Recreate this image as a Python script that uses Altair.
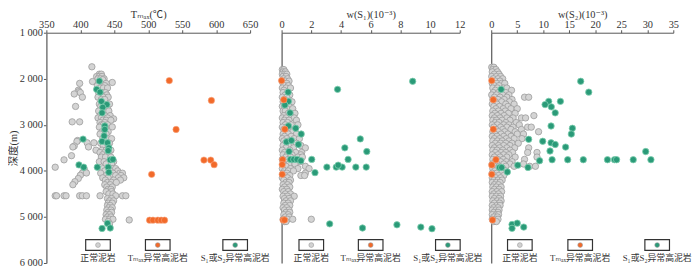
import altair as alt
import pandas as pd

FONT = "Liberation Serif, Noto Sans CJK SC, DejaVu Sans"

# ---------------- data (depth m, value) ----------------
# Panel 1: Tmax (℃)
p1_gray_rows = [
    (1740, [417]), (1900, [428, 431]), (1950, [424, 428, 432]), (2000, [426, 430, 435]),
    (2020, [433]), (2060, [418]), (2080, [447]), (2100, [399, 427, 430, 438]),
    (2150, [425, 436]), (2200, [429, 434, 440]), (2250, [397]), (2280, [398]),
    (2300, [400, 427, 432, 437]), (2330, [391]), (2350, [430, 439]), (2400, [403, 426, 434, 441]),
    (2450, [431, 436]), (2550, [428, 434, 443]), (2600, [393, 430, 437]), (2650, [432, 440]),
    (2700, [427, 435, 442]), (2800, [429, 436, 444]), (2850, [426, 431, 440]), (2870, [449]),
    (2900, [433, 438, 445]), (2935, [388, 399]), (2950, [429, 436]), (3000, [431, 434, 440]),
    (3045, [447]), (3050, [428, 437]), (3150, [432, 436, 441]), (3200, [429, 438]),
    (3300, [433, 440, 446]), (3340, [396]), (3360, [395]), (3390, [410, 420]),
    (3400, [430, 437, 443]), (3450, [434, 441]), (3460, [391]), (3480, [389, 412]),
    (3550, [423, 432, 438, 445]), (3600, [429, 436, 442]), (3650, [433, 440]), (3670, [387]),
    (3700, [431, 437, 445]), (3760, [376]), (3800, [428, 435, 442, 449]), (3850, [438, 446]),
    (3920, [363]), (3950, [433, 440, 447, 452]), (3970, [406]), (4000, [436, 444, 455]),
    (4045, [403, 409]), (4050, [430, 448, 458, 462]), (4095, [400]), (4100, [438, 445, 452, 460]),
    (4150, [433, 441, 456, 464]), (4165, [397]), (4200, [437, 449, 459]), (4235, [392]),
    (4250, [440, 446, 453]), (4300, [389, 436, 444]), (4350, [439, 447]), (4400, [441, 445]),
    (4450, [438, 446]), (4500, [442, 448]),
    (4540, [363, 365, 376, 379, 399, 403, 409, 429, 452, 462, 467]),
    (4600, [440, 446]), (4650, [443, 449]), (4700, [441, 447]), (4750, [440, 444]),
    (4800, [442, 447]), (4850, [439, 445]), (4900, [441, 446]), (4950, [438, 443]),
    (5000, [440, 445]), (5050, [437, 443, 448]), (5065, [472]), (5100, [441]), (5150, [443]),
]
p1_green_rows = [
    (2050, [428]), (2230, [424]), (2290, [429]), (2490, [431]), (2560, [439]), (2620, [433]),
    (2740, [432]), (3025, [436]), (3100, [436]), (3310, [404]), (3240, [435]), (3360, [432]),
    (3390, [440]), (3500, [442]), (3560, [441]), (3760, [444]), (3750, [448]),
    (3870, [398]), (3920, [405, 425, 441]), (4030, [442]), (5250, [432]), (5140, [440]), (5240, [444]),
]
p1_orange_rows = [
    (2040, [531]), (2470, [593]), (3100, [541]), (4075, [505]),
    (5070, [502, 507, 514, 519, 524]), (3765, [582, 592]), (3865, [597]),
]

# Panel 2: w(S1)
p2_gray_rows = [
    (1800, [0.05, 0.15]), (1850, [0.1, 0.25]), (1900, [0.05, 0.2, 0.35]), (1950, [0.1, 0.3]),
    (2000, [0.15, 0.4]), (2050, [0.05, 0.25, 0.5]), (2100, [0.1, 0.35]), (2150, [0.2, 0.45]),
    (2200, [0.05, 0.3, 0.6]), (2250, [0.15]), (2300, [0.1, 0.4]), (2350, [0.25, 0.55]),
    (2400, [0.05, 0.35]), (2450, [0.2]), (2500, [0.1, 0.45, 0.7]), (2550, [0.3]),
    (2600, [0.05, 0.2, 0.5]), (2650, [0.35, 0.75]), (2700, [0.1, 0.25]), (2750, [0.45, 0.9]),
    (2800, [0.15, 0.6]), (2850, [0.05, 0.3, 0.85]), (2900, [0.2, 0.5, 1.0]), (2950, [0.1, 0.4]),
    (3000, [0.25, 0.65, 1.1]), (3050, [0.05, 0.35]), (3100, [0.15, 0.55, 0.9]), (3150, [0.3, 0.75]),
    (3200, [0.1, 0.45, 1.0]), (3250, [0.2, 0.65]), (3300, [0.05, 0.35, 0.85, 1.2]),
    (3350, [0.15, 0.5]), (3400, [0.25, 0.7, 1.0]), (3450, [0.1, 0.45, 1.3]),
    (3500, [0.3, 0.8, 1.6]), (3550, [0.05, 0.55]), (3600, [0.2, 0.95, 1.35]),
    (3650, [0.1, 0.4, 0.7, 1.3]), (3700, [0.3, 0.6, 1.1, 1.4]), (3750, [0.05, 0.45]),
    (3800, [0.2, 0.75, 1.25]), (3850, [0.1, 0.5, 0.9]), (3900, [0.3, 1.6]),
    (3950, [0.05, 0.6, 1.1, 1.85]), (4000, [0.2, 0.45, 0.8]), (4050, [0.1, 0.35, 1.6]),
    (4100, [0.25, 0.55, 1.3, 1.55]), (4150, [0.05, 0.4]), (4200, [0.15, 0.6]), (4250, [0.3, 0.5]),
    (4300, [0.1, 0.4]), (4350, [0.2, 0.55]), (4400, [0.05, 0.35]), (4450, [0.15, 0.45]),
    (4500, [0.25, 0.6]), (4550, [0.1, 0.4, 0.85]), (4600, [0.2, 0.5]), (4650, [0.3, 0.6]),
    (4700, [0.15, 0.45]), (4750, [0.25, 0.55]), (4800, [0.1, 0.35]), (4850, [0.2, 0.5]),
    (4900, [0.3, 0.55]), (4950, [0.15, 0.45]), (5000, [0.25, 0.5]), (5050, [0.1, 0.4, 0.75, 2.0]),
    (5100, [0.2, 0.3]),
]
p2_green_rows = [
    (2055, [8.83]), (2230, [3.77]), (2290, [0.44]), (2490, [0.46]), (2570, [0.22]), (2740, [0.57]),
    (3025, [0.46]), (3075, [0.95]), (3200, [1.32]), (3306, [5.3]), (3370, [0.33]), (3340, [0.66]),
    (3500, [4.26]), (3426, [1.13]), (3580, [5.74, 0.5]), (3750, [4.48, 0.6, 0.82, 1.04, 2.03]),
    (3780, [1.3]), (3918, [3.05, 3.68, 4.08, 5.0, 5.7]), (3876, [3.81]), (4038, [2.25]),
    (5150, [3.24]), (5240, [5.45]), (5170, [7.77]), (5220, [9.38]), (5255, [10.13]),
]
p2_orange_rows = [
    (2040, [0.0]), (2456, [0.15]), (3095, [0.22]), (3757, [0.07]), (3863, [0.04]),
    (4075, [0.04]), (5066, [0.1, 0.2]),
]

# Panel 3: w(S2)
p3_gray_rows = [
    (1750, [0.1, 0.5]), (1800, [0.3, 0.9]), (1850, [0.2, 1.2]), (1900, [0.6, 1.5]),
    (1950, [0.1, 1.0, 1.8]), (2000, [0.4, 1.3, 2.2]), (2050, [0.8, 1.7]), (2100, [0.2, 1.1, 2.0, 2.6]),
    (2150, [0.6, 1.5]), (2200, [0.3, 1.2, 2.4, 3.0]), (2250, [0.8, 1.9, 3.9]), (2300, [0.4, 1.4, 2.8]),
    (2350, [0.1, 1.0, 2.2, 3.4]), (2400, [0.6, 1.7, 3.0, 6.4, 7.2]), (2450, [0.3, 1.3, 2.5, 4.0]),
    (2500, [0.8, 2.0, 3.5]), (2550, [0.2, 1.1, 2.8, 4.4]), (2600, [0.5, 1.6, 3.2]),
    (2650, [0.9, 2.3, 3.8, 5.0]), (2700, [0.3, 1.4, 2.7]), (2750, [0.7, 1.9, 3.3, 4.6]),
    (2800, [0.2, 1.2, 2.5, 8.2]), (2850, [0.6, 1.7, 3.0, 4.2, 5.8, 6.6]), (2900, [0.3, 1.0, 2.1, 3.6]),
    (2950, [0.8, 1.5, 2.8, 4.8]), (3000, [0.2, 1.2, 2.4, 3.4, 5.4]),
    (3050, [0.5, 1.8, 3.0, 4.2, 7.0, 7.7]), (3100, [0.9, 2.2, 3.8, 5.8]),
    (3150, [0.3, 1.4, 2.6, 4.6, 9.1]), (3200, [0.7, 1.9, 3.2, 5.0, 6.2]), (3250, [0.2, 1.1, 2.4, 3.8]),
    (3300, [0.6, 1.6, 2.9, 4.4, 5.9]), (3350, [0.3, 1.2, 2.1, 3.4]), (3400, [0.8, 1.8, 2.8, 4.0, 5.2]),
    (3450, [0.2, 1.4, 2.4, 3.6]), (3500, [0.6, 1.6, 3.0, 4.5, 7.2]), (3550, [0.3, 1.1, 2.2, 3.6]),
    (3600, [0.8, 1.9, 2.8, 4.1, 7.0, 8.8]), (3650, [0.2, 1.3, 2.4, 3.4]),
    (3700, [0.6, 1.7, 3.0, 4.6, 8.8]), (3750, [0.3, 1.2, 2.3, 6.4]), (3800, [0.8, 1.8, 2.9, 4.0]),
    (3850, [0.2, 1.1, 2.4, 3.6, 6.2]), (3900, [0.6, 1.5, 2.8, 4.4, 7.4, 8.5]), (3950, [0.3, 1.2, 2.2]),
    (4000, [0.7, 1.6, 2.8]), (4050, [0.2, 1.1, 2.0]), (4100, [0.5, 1.4, 2.4]), (4150, [0.2, 0.9, 1.8]),
    (4200, [0.5, 1.3, 2.1]), (4250, [0.2, 1.0, 1.7]), (4300, [0.6, 1.4]), (4350, [0.3, 1.0, 1.9]),
    (4400, [0.6, 1.5]), (4450, [0.2, 1.1, 2.0]), (4500, [0.5, 1.4]), (4550, [0.2, 1.0, 1.8]),
    (4600, [0.6, 1.5]), (4650, [0.3, 1.2, 1.9]), (4700, [0.6, 1.6]), (4750, [0.2, 1.1, 1.7]),
    (4800, [0.5, 1.3]), (4850, [0.2, 0.9, 1.5]), (4900, [0.5, 1.3]), (4950, [0.2, 1.0, 1.4]),
    (5000, [0.5, 1.2]), (5050, [0.2, 0.9, 1.3]), (5100, [0.5, 1.0]),
]
p3_green_rows = [
    (2055, [17.2]), (2290, [18.75]), (2230, [1.9]), (2490, [11.05, 13.3]), (2560, [10.35]),
    (2610, [11.55]), (2740, [12.3]), (3025, [11.5]), (3075, [15.6]), (3200, [15.4]),
    (3314, [7.2]), (3357, [9.9]), (3390, [11.5]), (3426, [12.3]), (3483, [14.3]), (3568, [11.3]),
    (3580, [29.7]), (3779, [9.3]), (3757, [11.7, 14.7, 17.7, 22.35, 23.7, 24.1, 27.3, 30.7]),
    (3876, [5.1]), (3926, [1.6, 2.0, 7.07]), (4024, [3.1]),
    (5163, [4.0]), (5135, [5.0]), (5247, [4.0]), (5220, [6.25]),
]
p3_orange_rows = [
    (2040, [0.1]), (2456, [0.4]), (3095, [0.4]), (3757, [0.9]), (3870, [0.1]),
    (4075, [0.1]), (5066, [0.25]),
]

legend_labels = ["正常泥岩", "Tₘₐₓ异常高泥岩", "S₁或S₂异常高泥岩"]
legend_colors = ["#d2d2d2", "#f26a2a", "#2a9a78"]
p1_legend_x = [426, 514, 628]
p2_legend_x = [2.0, 6.0, 11.2]
p3_legend_x = [5.5, 17.1, 31.9]
legend_box_depth = 5610
legend_text_depth = 5900

depth_ticks = [1000, 2000, 3000, 4000, 5000, 6000]
PLOT_H = 234


def expand(rows):
    xs, ds = [], []
    for d, vals in rows:
        for v in vals:
            xs.append(v)
            ds.append(d)
    return pd.DataFrame({"x": xs, "d": ds})


def panel(gray, green, orange, legend_x, xdomain, xticks, xtitle, width, first):
    xenc = alt.X(
        "x:Q",
        scale=alt.Scale(domain=xdomain, nice=False, zero=False),
        axis=alt.Axis(
            orient="top", values=xticks, title=xtitle, grid=False, tickSize=3,
            labelPadding=0, titlePadding=0, labelFlush=False,
            domainColor="#555", tickColor="#555", labelColor="#333", titleColor="#333",
            labelFont=FONT, titleFont=FONT, labelFontSize=10.5, titleFontSize=10.5,
            titleFontWeight="normal",
        ),
    )
    if first:
        yaxis = alt.Axis(
            values=depth_ticks, title="深度(m)", grid=False, tickSize=3, labelPadding=1,
            titlePadding=1,
            labelExpr="replace(format(datum.value, ','), ',', ' ')",
            domainColor="#777", domainWidth=1.5, tickColor="#555", labelColor="#333",
            titleColor="#333", labelFont=FONT, titleFont=FONT, labelFontSize=10.5,
            titleFontSize=10.5, titleFontWeight="normal",
        )
    else:
        yaxis = alt.Axis(values=depth_ticks, title=None, labels=False, ticks=False,
                         grid=False, domainColor="#555", domainWidth=1.2)
    yenc = alt.Y("d:Q", scale=alt.Scale(domain=[1000, 6000], reverse=True, nice=False, zero=False),
                 axis=yaxis)

    g = alt.Chart(expand(gray)).mark_circle(
        size=42, color="#d4d4d4", opacity=1, stroke="#9c9c9c", strokeWidth=0.8
    ).encode(x=xenc, y=yenc)
    gr = alt.Chart(expand(green)).mark_circle(
        size=42, color="#2a9a78", opacity=1, stroke="#7fcfb0", strokeWidth=0.8
    ).encode(x=xenc, y=yenc)
    o = alt.Chart(expand(orange)).mark_circle(
        size=42, color="#f26a2a", opacity=1, stroke="#f8a37c", strokeWidth=0.6
    ).encode(x=xenc, y=yenc)

    leg = pd.DataFrame({
        "x": legend_x, "label": legend_labels, "color": legend_colors,
        "d": [legend_box_depth] * 3,
    })
    legt = pd.DataFrame({"x": legend_x, "label": legend_labels, "d": [legend_text_depth] * 3})
    box = alt.Chart(leg).mark_point(
        shape="M-1,-0.44L1,-0.44L1,0.44L-1,0.44Z", size=625, filled=False,
        stroke="#333", strokeWidth=1.2, opacity=1,
    ).encode(x=xenc, y=yenc)
    dot = alt.Chart(leg).mark_circle(size=24, opacity=1, strokeWidth=0.6, stroke="#999").encode(
        x=xenc, y=yenc, color=alt.Color("color:N", scale=None)
    )
    txt = alt.Chart(legt).mark_text(
        font=FONT, fontSize=9, baseline="middle", align="center", color="#333"
    ).encode(x=xenc, y=yenc, text="label:N")

    return alt.layer(g, gr, o, box, dot, txt).properties(width=width, height=PLOT_H)


c1 = panel(p1_gray_rows, p1_green_rows, p1_orange_rows, p1_legend_x, [350, 650],
           [350, 400, 450, 500, 550, 600, 650], "Tₘₐₓ(℃)", 207, True)
c2 = panel(p2_gray_rows, p2_green_rows, p2_orange_rows, p2_legend_x, [0, 12],
           [0, 2, 4, 6, 8, 10, 12], "w(S₁)(10⁻³)", 181, False)
c3 = panel(p3_gray_rows, p3_green_rows, p3_orange_rows, p3_legend_x, [0, 35],
           [0, 5, 10, 15, 20, 25, 30, 35], "w(S₂)(10⁻³)", 185, False)

chart = alt.hconcat(c1, c2, c3, spacing=32, bounds="flush").properties(
    padding={"left": 0, "top": 0, "right": 0, "bottom": 0}
).configure_view(stroke=None)

chart.save("out.html", embed_options={"renderer": "svg", "actions": False})
